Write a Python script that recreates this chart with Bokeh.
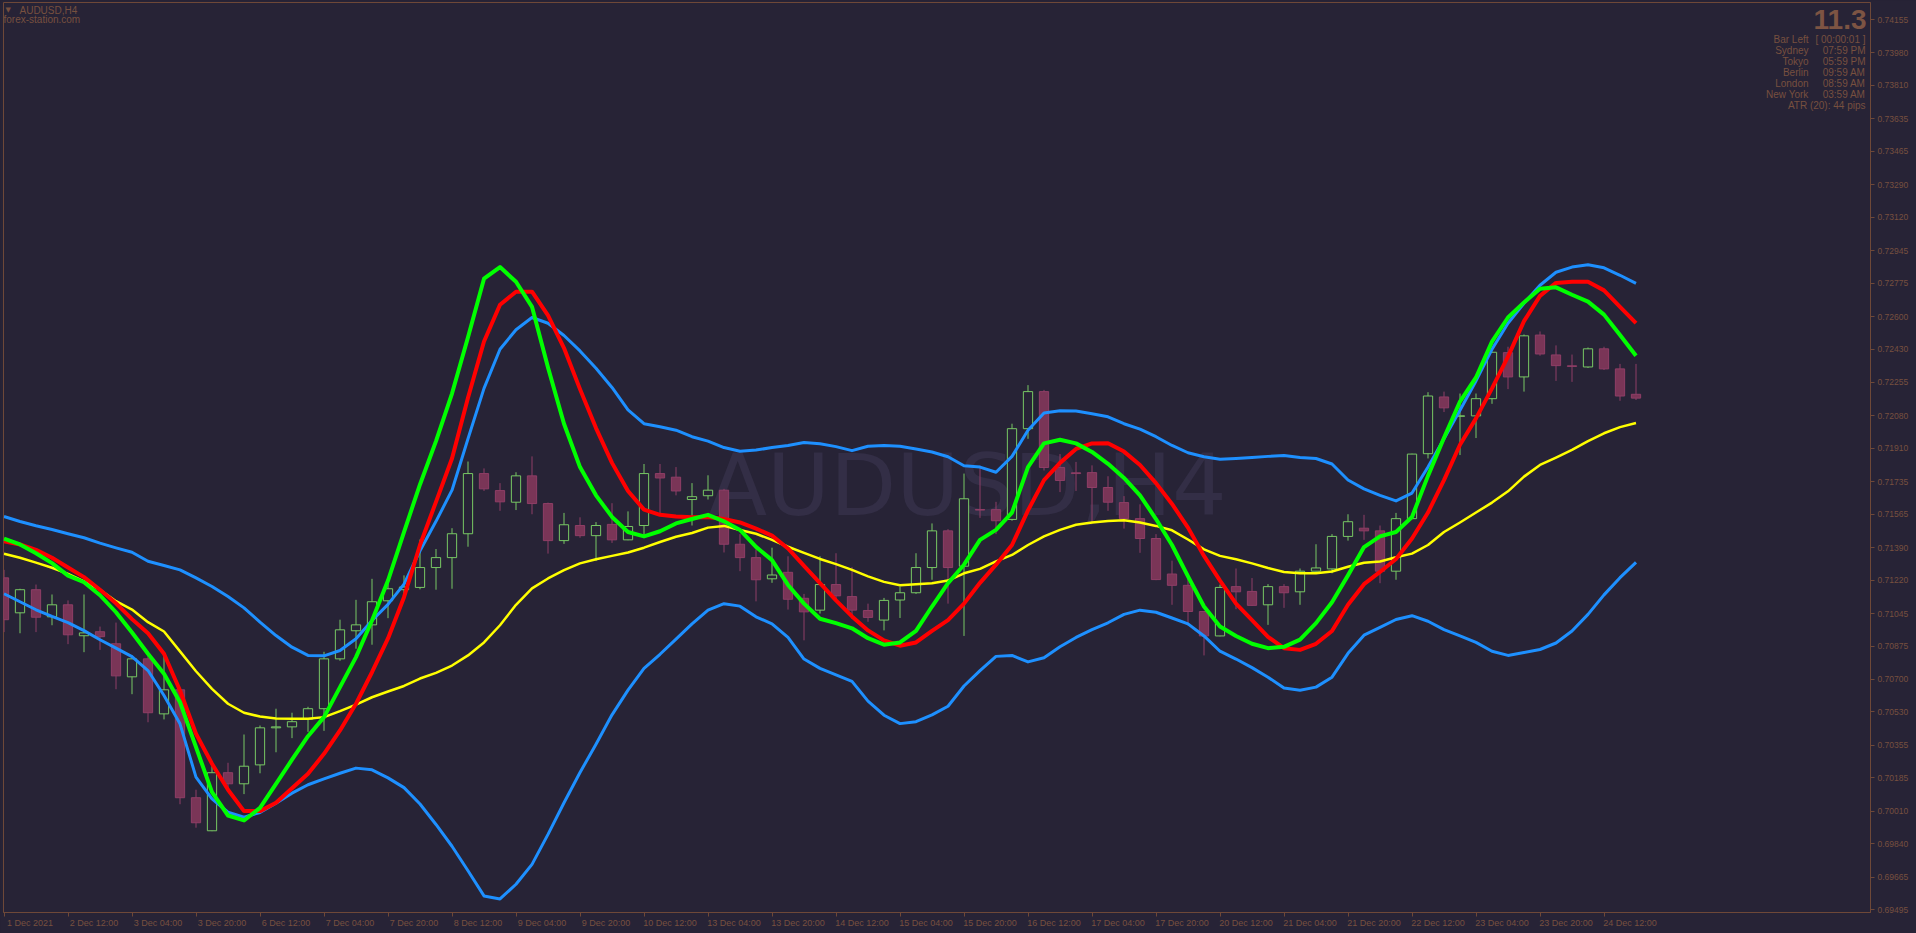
from bokeh.plotting import figure
from bokeh.models import Range1d, FixedTicker, PrintfTickFormatter, LinearAxis, Label, ColumnDataSource
from bokeh.embed import file_html
from bokeh.resources import INLINE

# ---------------- data (AUDUSD H4, 103 bars) ----------------
opens = [0.71232, 0.71049, 0.71170, 0.71028, 0.71091, 0.70929, 0.70950, 0.70887, 0.70714, 0.70808,
         0.70520, 0.70646, 0.70081, 0.69908, 0.70212, 0.70154, 0.70253, 0.70447, 0.70452, 0.70492,
         0.70547, 0.70808, 0.70955, 0.70986, 0.71112, 0.71170, 0.71182, 0.71286, 0.71338, 0.71463,
         0.71778, 0.71689, 0.71628, 0.71766, 0.71621, 0.71427, 0.71506, 0.71453, 0.71512, 0.71431,
         0.71506, 0.71778, 0.71759, 0.71642, 0.71662, 0.71691, 0.71408, 0.71338, 0.71227, 0.71261,
         0.71125, 0.71063, 0.71197, 0.71134, 0.71061, 0.71011, 0.71116, 0.71154, 0.71286, 0.71478,
         0.71293, 0.71590, 0.71589, 0.71538, 0.72013, 0.72207, 0.71810, 0.71782, 0.71783, 0.71705,
         0.71626, 0.71542, 0.71438, 0.71252, 0.71193, 0.71056, 0.70928, 0.71186, 0.71161, 0.71091,
         0.71186, 0.71159, 0.71267, 0.71279, 0.71449, 0.71492, 0.71478, 0.71267, 0.71542, 0.71882,
         0.72179, 0.72078, 0.72080, 0.72170, 0.72411, 0.72284, 0.72503, 0.72399, 0.72342, 0.72336,
         0.72431, 0.72326, 0.72193]
highs = [0.71274, 0.71175, 0.71197, 0.71145, 0.71114, 0.71145, 0.70977, 0.70998, 0.70826, 0.70835,
         0.70835, 0.70650, 0.70123, 0.70246, 0.70264, 0.70412, 0.70459, 0.70547, 0.70526, 0.70557,
         0.70845, 0.71013, 0.71117, 0.71227, 0.71227, 0.71245, 0.71433, 0.71383, 0.71492, 0.71841,
         0.71805, 0.71728, 0.71785, 0.71868, 0.71626, 0.71572, 0.71549, 0.71524, 0.71623, 0.71580,
         0.71828, 0.71828, 0.71812, 0.71728, 0.71769, 0.71698, 0.71461, 0.71381, 0.71390, 0.71345,
         0.71148, 0.71345, 0.71361, 0.71288, 0.71097, 0.71127, 0.71186, 0.71361, 0.71517, 0.71487,
         0.71778, 0.71819, 0.71630, 0.72039, 0.72241, 0.72216, 0.71880, 0.71839, 0.71821, 0.71764,
         0.71660, 0.71617, 0.71461, 0.71322, 0.71233, 0.71058, 0.71197, 0.71281, 0.71231, 0.71199,
         0.71199, 0.71281, 0.71408, 0.71461, 0.71565, 0.71562, 0.71506, 0.71572, 0.71882, 0.72204,
         0.72207, 0.72197, 0.72197, 0.72415, 0.72442, 0.72506, 0.72522, 0.72449, 0.72401, 0.72438,
         0.72442, 0.72352, 0.72352]
lows = [0.70948, 0.70942, 0.70948, 0.70984, 0.70885, 0.70843, 0.70855, 0.70649, 0.70623, 0.70476,
        0.70491, 0.70047, 0.69924, 0.69906, 0.70131, 0.70100, 0.70209, 0.70319, 0.70393, 0.70426,
        0.70431, 0.70798, 0.70861, 0.70882, 0.71021, 0.71138, 0.71172, 0.71170, 0.71175, 0.71395,
        0.71687, 0.71583, 0.71587, 0.71565, 0.71359, 0.71410, 0.71442, 0.71320, 0.71415, 0.71429,
        0.71456, 0.71562, 0.71664, 0.71506, 0.71642, 0.71365, 0.71267, 0.71109, 0.71206, 0.71066,
        0.70905, 0.71045, 0.71114, 0.71018, 0.71002, 0.70957, 0.71022, 0.71148, 0.71222, 0.71097,
        0.70928, 0.71546, 0.71461, 0.71531, 0.71960, 0.71794, 0.71681, 0.71687, 0.71524, 0.71583,
        0.71490, 0.71363, 0.71220, 0.71091, 0.70982, 0.70826, 0.70926, 0.71068, 0.71086, 0.70986,
        0.71075, 0.71091, 0.71265, 0.71256, 0.71427, 0.71431, 0.71204, 0.71222, 0.71540, 0.71857,
        0.72100, 0.71875, 0.71964, 0.72143, 0.72220, 0.72207, 0.72395, 0.72263, 0.72258, 0.72331,
        0.72320, 0.72159, 0.72163]
closes = [0.71013, 0.71170, 0.71026, 0.71091, 0.70934, 0.70944, 0.70924, 0.70719, 0.70808, 0.70526,
          0.70646, 0.70081, 0.69950, 0.70212, 0.70154, 0.70246, 0.70447, 0.70452, 0.70479, 0.70547,
          0.70808, 0.70960, 0.70986, 0.71107, 0.71175, 0.71184, 0.71286, 0.71338, 0.71463, 0.71778,
          0.71698, 0.71630, 0.71766, 0.71621, 0.71427, 0.71510, 0.71453, 0.71506, 0.71431, 0.71501,
          0.71778, 0.71755, 0.71687, 0.71657, 0.71691, 0.71408, 0.71338, 0.71222, 0.71247, 0.71120,
          0.71054, 0.71197, 0.71138, 0.71063, 0.71025, 0.71114, 0.71154, 0.71286, 0.71478, 0.71286,
          0.71646, 0.71587, 0.71531, 0.72013, 0.72207, 0.71810, 0.71742, 0.71778, 0.71705, 0.71628,
          0.71542, 0.71438, 0.71223, 0.71193, 0.71056, 0.70928, 0.71182, 0.71159, 0.71088, 0.71186,
          0.71154, 0.71267, 0.71284, 0.71449, 0.71526, 0.71478, 0.71267, 0.71542, 0.71880, 0.72184,
          0.72122, 0.72080, 0.72170, 0.72413, 0.72284, 0.72499, 0.72404, 0.72343, 0.72339, 0.72431,
          0.72326, 0.72184, 0.72173]

bb_upper = [0.71553, 0.71527, 0.71505, 0.71485, 0.71463, 0.71442, 0.71414, 0.71389, 0.71366, 0.71319,
            0.71297, 0.71274, 0.71232, 0.71187, 0.71134, 0.71075, 0.71000, 0.70930, 0.70869, 0.70826,
            0.70824, 0.70852, 0.70913, 0.71009, 0.71093, 0.71199, 0.71374, 0.71528, 0.71691, 0.71960,
            0.72224, 0.72429, 0.72531, 0.72595, 0.72565, 0.72501, 0.72420, 0.72329, 0.72229, 0.72111,
            0.72039, 0.72023, 0.72005, 0.71971, 0.71948, 0.71914, 0.71895, 0.71901, 0.71914, 0.71925,
            0.71941, 0.71934, 0.71919, 0.71898, 0.71921, 0.71925, 0.71921, 0.71907, 0.71891, 0.71866,
            0.71819, 0.71812, 0.71785, 0.71868, 0.72005, 0.72095, 0.72107, 0.72105, 0.72091, 0.72075,
            0.72039, 0.72011, 0.71971, 0.71925, 0.71887, 0.71866, 0.71853, 0.71857, 0.71862, 0.71868,
            0.71873, 0.71862, 0.71857, 0.71828, 0.71744, 0.71698, 0.71664, 0.71635, 0.71676, 0.71812,
            0.71960, 0.72110, 0.72263, 0.72429, 0.72565, 0.72669, 0.72764, 0.72832, 0.72859, 0.72871,
            0.72855, 0.72816, 0.72774]
bb_lower = [0.71149, 0.71107, 0.71065, 0.71030, 0.70998, 0.70956, 0.70908, 0.70864, 0.70820, 0.70747,
            0.70616, 0.70468, 0.70189, 0.70075, 0.70005, 0.69979, 0.70004, 0.70052, 0.70105, 0.70149,
            0.70180, 0.70209, 0.70236, 0.70227, 0.70185, 0.70134, 0.70048, 0.69941, 0.69827, 0.69699,
            0.69567, 0.69551, 0.69628, 0.69732, 0.69889, 0.70055, 0.70213, 0.70361, 0.70515, 0.70644,
            0.70758, 0.70832, 0.70911, 0.70991, 0.71063, 0.71097, 0.71084, 0.71028, 0.70991, 0.70920,
            0.70807, 0.70758, 0.70724, 0.70690, 0.70587, 0.70513, 0.70469, 0.70479, 0.70515, 0.70560,
            0.70666, 0.70746, 0.70821, 0.70826, 0.70792, 0.70814, 0.70871, 0.70920, 0.70961, 0.70997,
            0.71041, 0.71063, 0.71052, 0.71022, 0.70991, 0.70928, 0.70848, 0.70807, 0.70762, 0.70712,
            0.70655, 0.70644, 0.70660, 0.70712, 0.70837, 0.70932, 0.70973, 0.71014, 0.71034, 0.71005,
            0.70961, 0.70928, 0.70894, 0.70848, 0.70826, 0.70841, 0.70857, 0.70891, 0.70954, 0.71041,
            0.71143, 0.71233, 0.71313]
bb_mid = [0.71358, 0.71337, 0.71312, 0.71285, 0.71253, 0.71213, 0.71170, 0.71110, 0.71066, 0.71000,
          0.70951, 0.70847, 0.70743, 0.70651, 0.70573, 0.70526, 0.70506, 0.70496, 0.70494, 0.70494,
          0.70503, 0.70534, 0.70568, 0.70607, 0.70637, 0.70666, 0.70705, 0.70735, 0.70773, 0.70826,
          0.70894, 0.70984, 0.71091, 0.71177, 0.71229, 0.71272, 0.71308, 0.71329, 0.71347, 0.71365,
          0.71390, 0.71420, 0.71447, 0.71467, 0.71495, 0.71504, 0.71483, 0.71463, 0.71431, 0.71395,
          0.71363, 0.71331, 0.71304, 0.71274, 0.71240, 0.71211, 0.71193, 0.71199, 0.71204, 0.71218,
          0.71256, 0.71279, 0.71318, 0.71352, 0.71404, 0.71449, 0.71483, 0.71510, 0.71522, 0.71530,
          0.71534, 0.71522, 0.71504, 0.71481, 0.71433, 0.71381, 0.71347, 0.71329, 0.71308, 0.71284,
          0.71263, 0.71256, 0.71256, 0.71265, 0.71290, 0.71311, 0.71318, 0.71340, 0.71359, 0.71404,
          0.71472, 0.71522, 0.71574, 0.71626, 0.71685, 0.71762, 0.71823, 0.71862, 0.71902, 0.71948,
          0.71989, 0.72021, 0.72043]
ma_fast = [0.71437, 0.71407, 0.71361, 0.71309, 0.71244, 0.71209, 0.71141, 0.71052, 0.70946, 0.70835,
           0.70730, 0.70581, 0.70346, 0.70110, 0.69988, 0.69962, 0.70028, 0.70154, 0.70280, 0.70403,
           0.70503, 0.70660, 0.70817, 0.71009, 0.71218, 0.71472, 0.71721, 0.71948, 0.72197, 0.72492,
           0.72798, 0.72859, 0.72782, 0.72651, 0.72333, 0.72039, 0.71812, 0.71664, 0.71551, 0.71472,
           0.71449, 0.71476, 0.71517, 0.71540, 0.71562, 0.71528, 0.71483, 0.71394, 0.71325, 0.71195,
           0.71097, 0.71018, 0.70995, 0.70968, 0.70916, 0.70882, 0.70894, 0.70954, 0.71082, 0.71204,
           0.71301, 0.71431, 0.71483, 0.71574, 0.71812, 0.71936, 0.71955, 0.71936, 0.71891, 0.71829,
           0.71755, 0.71664, 0.71540, 0.71404, 0.71240, 0.71082, 0.70977, 0.70928, 0.70887, 0.70864,
           0.70871, 0.70909, 0.70995, 0.71104, 0.71245, 0.71393, 0.71449, 0.71472, 0.71551, 0.71766,
           0.71966, 0.72155, 0.72281, 0.72469, 0.72595, 0.72674, 0.72746, 0.72753, 0.72714, 0.72678,
           0.72610, 0.72503, 0.72395]
ma_slow = [0.71424, 0.71407, 0.71379, 0.71337, 0.71286, 0.71236, 0.71170, 0.71099, 0.71016, 0.70942,
           0.70835, 0.70642, 0.70416, 0.70259, 0.70123, 0.70011, 0.70011, 0.70055, 0.70131, 0.70206,
           0.70311, 0.70433, 0.70573, 0.70738, 0.70915, 0.71131, 0.71404, 0.71630, 0.71857, 0.72175,
           0.72469, 0.72662, 0.72730, 0.72730, 0.72606, 0.72435, 0.72220, 0.72016, 0.71834, 0.71687,
           0.71589, 0.71562, 0.71553, 0.71549, 0.71551, 0.71540, 0.71522, 0.71490, 0.71453, 0.71386,
           0.71295, 0.71204, 0.71114, 0.71030, 0.70957, 0.70905, 0.70877, 0.70894, 0.70954, 0.71011,
           0.71097, 0.71206, 0.71301, 0.71404, 0.71585, 0.71744, 0.71834, 0.71907, 0.71936, 0.71937,
           0.71893, 0.71823, 0.71728, 0.71619, 0.71495, 0.71347, 0.71218, 0.71097, 0.71011, 0.70923,
           0.70864, 0.70855, 0.70887, 0.70954, 0.71091, 0.71199, 0.71263, 0.71331, 0.71438, 0.71574,
           0.71744, 0.71929, 0.72067, 0.72224, 0.72390, 0.72576, 0.72708, 0.72776, 0.72782, 0.72782,
           0.72737, 0.72651, 0.72565]

x_labels = ["1 Dec 2021", "2 Dec 12:00", "3 Dec 04:00", "3 Dec 20:00", "6 Dec 12:00", "7 Dec 04:00",
            "7 Dec 20:00", "8 Dec 12:00", "9 Dec 04:00", "9 Dec 20:00", "10 Dec 12:00", "13 Dec 04:00",
            "13 Dec 20:00", "14 Dec 12:00", "15 Dec 04:00", "15 Dec 20:00", "16 Dec 12:00", "17 Dec 04:00",
            "17 Dec 20:00", "20 Dec 12:00", "21 Dec 04:00", "21 Dec 20:00", "22 Dec 12:00", "23 Dec 04:00",
            "23 Dec 20:00", "24 Dec 12:00"]
y_ticks = [0.74155, 0.73980, 0.73810, 0.73635, 0.73465, 0.73290, 0.73120, 0.72945, 0.72775, 0.72600,
           0.72430, 0.72255, 0.72080, 0.71910, 0.71735, 0.71565, 0.71390, 0.71220, 0.71045, 0.70875,
           0.70700, 0.70530, 0.70355, 0.70185, 0.70010, 0.69840, 0.69665, 0.69495]

info_names = ["Bar Left", "Sydney", "Tokyo", "Berlin", "London", "New York"]
info_values = ["[ 00:00:01 ]", "07:59 PM", "05:59 PM", "09:59 AM", "08:59 AM", "03:59 AM"]
spread_text = "11.3"
atr_text = "ATR (20): 44 pips"

# ---------------- style / layout ----------------
BG = "#272336"
AXIS = "#6e4838"
TXT = "#77503f"
BULL = "#78c864"
BEAR_FILL = "#7a3557"
BEAR_LINE = "#8f3e66"
FONT = "Liberation Sans"

W, H = 1916, 933
FL, FT, FR, FB = 3, 2, 1870, 912          # frame edges in page pixels
FRAME_H = FB - FT
X0 = (FL - 3.5) / 16.0
X1 = X0 + (FR - FL) / 16.0
Y_TOP, Y_BOT = 0.742440, 0.694802


def px_x(px):
    return X0 + (px - FL) / 16.0


def px_y(py):
    return Y_TOP - (py - FT) * (Y_TOP - Y_BOT) / FRAME_H


n = len(closes)
idx = list(range(n))
up = [c >= o for o, c in zip(opens, closes)]
src = ColumnDataSource(dict(
    x=idx,
    top=[max(o, c) for o, c in zip(opens, closes)],
    bottom=[min(o, c) for o, c in zip(opens, closes)],
    high=highs, low=lows,
    fill=[BG if u else BEAR_FILL for u in up],
    line=[BULL if u else BEAR_LINE for u in up],
))

p = figure(width=W, height=H, x_range=Range1d(X0, X1), y_range=Range1d(Y_BOT, Y_TOP),
           y_axis_location="right", output_backend="svg", toolbar_location=None,
           background_fill_color=BG, border_fill_color=BG,
           min_border_left=FL, min_border_top=FT, min_border_right=W - FR, min_border_bottom=H - FB)
p.grid.visible = False
p.outline_line_color = AXIS
p.outline_line_width = 1

# x axis: tick marks only
tick_bars = list(range(0, 4 * len(x_labels), 4))
xa = p.xaxis[0]
xa.ticker = FixedTicker(ticks=tick_bars)
xa.axis_line_color = AXIS
xa.major_tick_line_color = AXIS
xa.major_tick_out = 4
xa.major_tick_in = 0
xa.minor_tick_out = 0
xa.minor_tick_in = 0
xa.major_label_text_font_size = "1px"
xa.major_label_text_alpha = 0
xa.major_label_standoff = 0

# x axis labels, left aligned after each tick
LBL_OFF = 1.62
p.extra_x_ranges = {"lbl": Range1d(X0 - LBL_OFF, X1 - LBL_OFF)}
la = LinearAxis(x_range_name="lbl", ticker=FixedTicker(ticks=tick_bars),
                major_label_overrides={b: s for b, s in zip(tick_bars, x_labels)})
la.axis_line_color = None
la.major_tick_line_color = None
la.minor_tick_line_color = None
la.major_tick_out = 0
la.major_tick_in = 0
la.major_label_standoff = 1
la.major_label_text_font = FONT
la.major_label_text_font_size = "9px"
la.major_label_text_color = TXT
p.add_layout(la, "below")

# y axis on right
ya = p.yaxis[0]
ya.ticker = FixedTicker(ticks=y_ticks)
ya.formatter = PrintfTickFormatter(format="%.5f")
ya.axis_line_color = AXIS
ya.major_tick_line_color = AXIS
ya.major_tick_out = 4
ya.major_tick_in = 0
ya.minor_tick_out = 0
ya.minor_tick_in = 0
ya.major_label_standoff = 3
ya.major_label_text_font = FONT
ya.major_label_text_font_size = "8.5px"
ya.major_label_text_color = TXT

# watermark
p.add_layout(Label(x=px_x(967), y=px_y(484), text="AUDUSD,H4", text_align="center",
                   text_baseline="middle", text_font="DejaVu Sans", text_font_size="86px",
                   text_color="#332e46", level="underlay"))

# candles
p.segment(x0="x", y0="low", x1="x", y1="high", line_color="line", line_width=1, source=src)
p.vbar(x="x", width=0.58, top="top", bottom="bottom", fill_color="fill", line_color="line",
       line_width=1, source=src)

# indicators
p.line(idx, bb_upper, line_color="#1e90ff", line_width=3, line_join="round")
p.line(idx, bb_lower, line_color="#1e90ff", line_width=3, line_join="round")
p.line(idx, bb_mid, line_color="#ffff00", line_width=2.5, line_join="round")
p.line(idx, ma_slow, line_color="#ff0000", line_width=4, line_join="round")
p.line(idx, ma_fast, line_color="#00ff00", line_width=4, line_join="round")

# title
p.add_layout(Label(x=px_x(5), y=px_y(9.5), text="\u25BC", text_font="DejaVu Sans", text_font_size="7px",
                   text_baseline="middle", text_align="left", text_color=TXT))
p.add_layout(Label(x=px_x(19), y=px_y(9.5), text="AUDUSD,H4", text_font=FONT, text_font_size="10px",
                   text_baseline="middle", text_align="left", text_color=TXT))
p.add_layout(Label(x=px_x(3), y=px_y(18.5), text="forex-station.com", text_font=FONT, text_font_size="10px",
                   text_baseline="middle", text_align="left", text_color=TXT))

# info panel
p.add_layout(Label(x=px_x(1866), y=px_y(18.5), text=spread_text, text_font=FONT, text_font_size="28px",
                   text_font_style="bold", text_baseline="middle", text_align="right",
                   text_color="#7d5443"))
row_y = [38.7, 50, 61, 72, 82.7, 93.7]
for nm, vl, ry in zip(info_names, info_values, row_y):
    p.add_layout(Label(x=px_x(1808), y=px_y(ry), text=nm, text_font=FONT, text_font_size="10px",
                       text_baseline="middle", text_align="right", text_color=TXT))
    p.add_layout(Label(x=px_x(1865), y=px_y(ry), text=vl, text_font=FONT, text_font_size="10px",
                       text_baseline="middle", text_align="right", text_color=TXT))
p.add_layout(Label(x=px_x(1865), y=px_y(105), text=atr_text, text_font=FONT, text_font_size="10px",
                   text_baseline="middle", text_align="right", text_color=TXT))

# current price tag
p.add_layout(Label(x=X1, y=closes[-1], x_offset=4, text="%.5f" % closes[-1], text_font=FONT,
                   text_font_size="8.5px", text_baseline="middle", text_align="left",
                   text_color="#d8c0b0", background_fill_color="#7a5140", padding=2))

html = file_html(p, INLINE, title="AUDUSD,H4")
html = html.replace("<head>", "<head><style>body{background:#272336;}</style>", 1)
open("out.html", "w").write(html)
